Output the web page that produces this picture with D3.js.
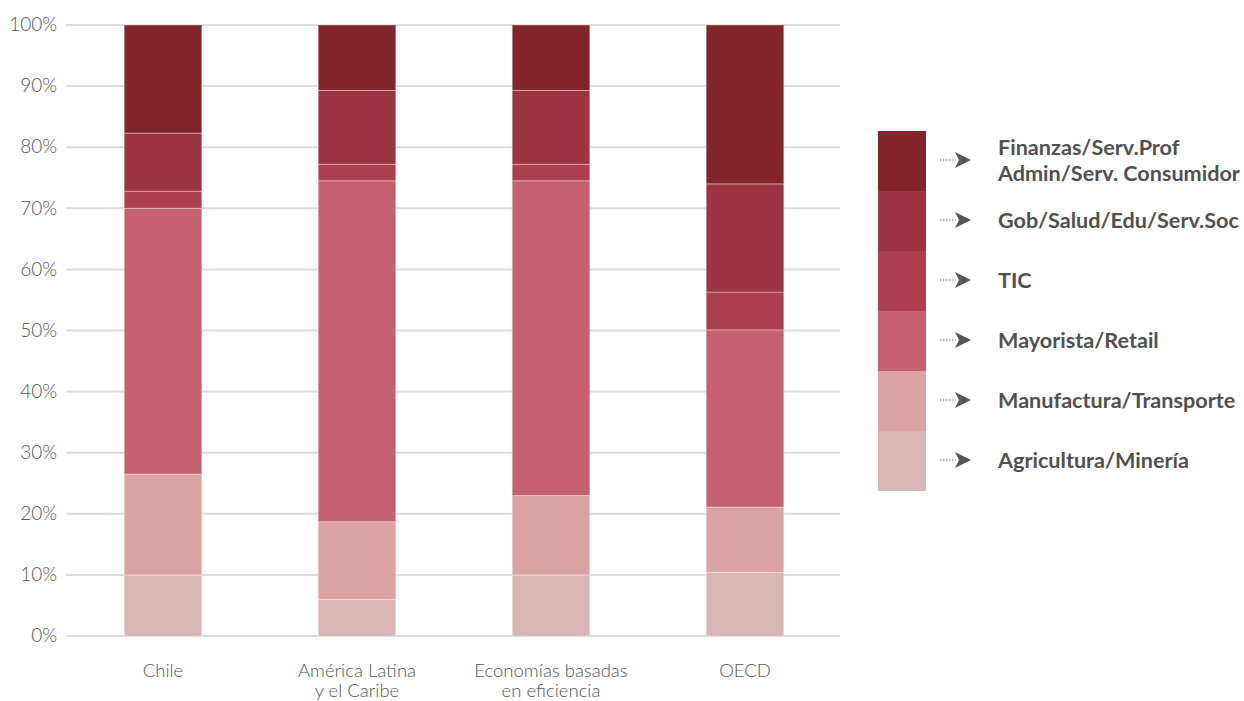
<!DOCTYPE html>
<html><head><meta charset="utf-8">
<script src="https://cdn.jsdelivr.net/npm/d3@7"></script>
<style>
html,body{margin:0;padding:0;background:#fff;}
svg{display:block;font-family:Lato,"Open Sans",sans-serif;}
</style></head>
<body><svg id="chart" width="1244" height="701"></svg>
<script>
const categories = [["Chile"], ["América Latina", "y el Caribe"], ["Economías basadas", "en eficiencia"], ["OECD"]];
const seriesNames = ["Agricultura/Minería", "Manufactura/Transporte", "Mayorista/Retail", "TIC", "Gob/Salud/Edu/Serv.Soc", "Finanzas/Serv.Prof Admin/Serv. Consumidor"];
const legendLines = [["Agricultura/Minería"], ["Manufactura/Transporte"], ["Mayorista/Retail"], ["TIC"], ["Gob/Salud/Edu/Serv.Soc"], ["Finanzas/Serv.Prof", "Admin/Serv. Consumidor"]];
const agricultura = [10.0, 6.0, 10.0, 10.4];
const manufactura = [16.5, 12.7, 13.0, 10.7];
const mayorista = [43.5, 55.8, 51.5, 29.0];
const tic = [2.8, 2.7, 2.7, 6.2];
const gobierno = [9.5, 12.1, 12.1, 17.7];
const finanzas = [17.7, 10.7, 10.7, 26.0];
const colors = ["#d9b6b6", "#dba3a2", "#c56070", "#ad404e", "#9b3541", "#81252a"];
const yTicks = [0, 10, 20, 30, 40, 50, 60, 70, 80, 90, 100];

const seriesValues = [agricultura, manufactura, mayorista, tic, gobierno, finanzas];
const rows = categories.map((c, i) => {
  const r = {cat: c.join(" ")};
  seriesNames.forEach((s, j) => r[s] = seriesValues[j][i]);
  return r;
});
const stack = d3.stack().keys(seriesNames)(rows);

const svg = d3.select("#chart");
const x = d3.scaleBand().domain(rows.map(r => r.cat)).range([66, 842]).paddingInner(0.6).paddingOuter(0.3);
const y = d3.scaleLinear().domain([0, 100]).range([636, 25]);

// grid
svg.append("g").selectAll("line").data(yTicks).join("line")
  .attr("x1", 66).attr("x2", 840)
  .attr("y1", d => y(d)).attr("y2", d => y(d))
  .attr("stroke", "#dcdcdc").attr("stroke-width", 2);

// y axis labels
const yAxis = d3.axisLeft(y).tickValues(yTicks).tickFormat(d => d + "%").tickSize(0).tickPadding(0);
const ya = svg.append("g").attr("transform", "translate(57,0)").call(yAxis);
ya.select(".domain").remove();
ya.selectAll("text").attr("font-family", "Lato").attr("font-weight", 300)
  .attr("font-size", 19).attr("fill", "#555").attr("dy", "0.3em");

// bars
svg.append("g").selectAll("g").data(stack).join("g")
  .attr("fill", (d, i) => colors[i])
  .selectAll("rect").data(d => d).join("rect")
  .attr("x", d => x(d.data.cat))
  .attr("width", x.bandwidth())
  .attr("y", d => y(d[1]))
  .attr("height", d => y(d[0]) - y(d[1]))
  .attr("stroke", "rgba(255,255,255,0.35)").attr("stroke-width", 1);

// x labels
const xl = svg.append("g").selectAll("text").data(categories).join("text")
  .attr("x", (d, i) => x(rows[i].cat) + x.bandwidth() / 2)
  .attr("y", 677)
  .attr("text-anchor", "middle")
  .attr("font-family", "Lato").attr("font-weight", 300)
  .attr("font-size", 18.5).attr("fill", "#555");
xl.selectAll("tspan").data(d => d).join("tspan")
  .attr("x", function() { return this.parentNode.getAttribute("x"); })
  .attr("dy", (d, i) => i === 0 ? 0 : 20)
  .text(d => d);

// legend
const ly = d3.scaleBand().domain(d3.range(seriesNames.length).reverse()).range([131, 491]);
const lg = svg.append("g");
lg.selectAll("rect").data(seriesNames).join("rect")
  .attr("x", 878).attr("width", 48)
  .attr("y", (d, i) => ly(i)).attr("height", ly.bandwidth())
  .attr("fill", (d, i) => colors[i]);
const items = lg.selectAll("g.item").data(legendLines).join("g").attr("class", "item")
  .attr("transform", (d, i) => `translate(0,${ly(i) + ly.bandwidth() / 2 - 1})`);
items.append("line").attr("x1", 940).attr("x2", 956).attr("y1", 0).attr("y2", 0)
  .attr("stroke", "#666").attr("stroke-width", 1.2).attr("stroke-dasharray", "1.5,1.5");
items.append("path").attr("d", "M955,-8 L971,0 L955,8 L959,0 Z").attr("fill", "#555");
const lt = items.append("text").attr("x", 998)
  .attr("font-family", "Lato").attr("font-weight", 700).attr("font-size", 21.6).attr("fill", "#505050");
lt.selectAll("tspan").data(d => d.map((t, k) => ({t, k, n: d.length}))).join("tspan")
  .attr("x", 998)
  .attr("y", d => (d.k - (d.n - 1) / 2) * 26)
  .attr("dy", "0.35em")
  .text(d => d.t);
</script></body></html>
